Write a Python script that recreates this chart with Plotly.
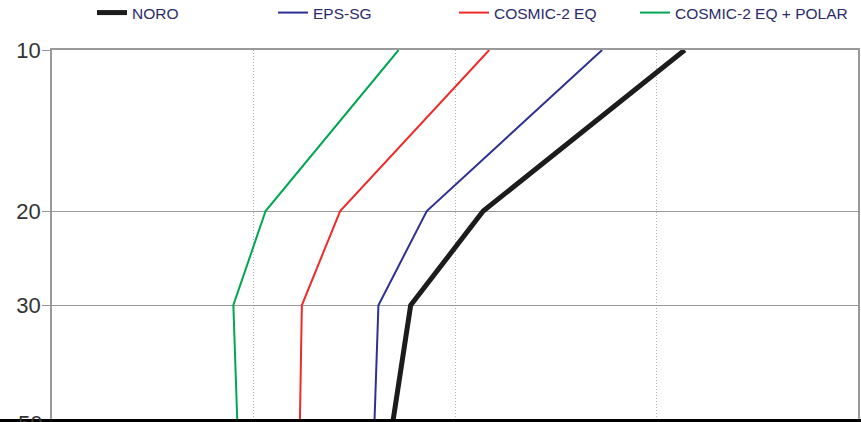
import math
import plotly.graph_objects as go

# Pressure levels (hPa) and profile values for each configuration
pressure = [10, 20, 30, 50]
noro = [3.14, 2.14, 1.78, 1.69]
eps_sg = [2.73, 1.86, 1.62, 1.60]
cosmic_eq = [2.17, 1.43, 1.24, 1.23]
cosmic_eq_polar = [1.72, 1.06, 0.90, 0.92]

series_names = ["NORO", "EPS-SG", "COSMIC-2 EQ", "COSMIC-2 EQ + POLAR"]
series_values = [noro, eps_sg, cosmic_eq, cosmic_eq_polar]
series_colors = ["#1c1c1c", "#2e3192", "#ee2b2b", "#00a651"]
series_widths = [5, 2, 2, 2]

ytick_vals = [10, 20, 30]
ytick_text = ["10", "20", "30"]

W, H = 861, 422
ML, MR, MT, MB = 52, 3, 50, 0
plot_h = H - MT - MB
plot_w = W - ML - MR
px_per_decade = 535.0

font_family = "Liberation Sans, Arial, Helvetica, sans-serif"
legend_ids = ["legend", "legend2", "legend3", "legend4"]
legend_left_px = [92, 273, 454, 635]

fig = go.Figure()
for name, vals, col, lw, lid in zip(series_names, series_values, series_colors,
                                    series_widths, legend_ids):
    fig.add_trace(go.Scatter(
        x=vals, y=pressure, mode="lines", name=name,
        line=dict(color=col, width=lw), legend=lid,
    ))

legend_layout = {}
for lid, lx in zip(legend_ids, legend_left_px):
    legend_layout[lid] = dict(
        orientation="h", x=(lx - ML) / plot_w, xanchor="left",
        y=1 + (MT - 13) / plot_h, yanchor="middle",
        font=dict(size=15.5, color="#2b2a6b", family=font_family),
        bgcolor="rgba(0,0,0,0)",
    )

fig.update_layout(
    width=W, height=H,
    margin=dict(l=ML, r=MR, t=MT, b=MB, autoexpand=False),
    paper_bgcolor="white", plot_bgcolor="white",
    font=dict(family=font_family, color="#333333"),
    showlegend=True,
    xaxis=dict(
        range=[0, 4], dtick=1, showticklabels=False, ticks="",
        showgrid=True, gridcolor="#b4b4b4", griddash="1px,2px", gridwidth=1,
        zeroline=False, showline=True, linecolor="#999999", linewidth=1.5,
        mirror=True,
    ),
    yaxis=dict(
        type="log", range=[1 + plot_h / px_per_decade, 1],
        tickvals=ytick_vals, ticktext=ytick_text,
        tickfont=dict(size=22, color="#333333"),
        ticks="outside", ticklen=8, tickcolor="#999999", tickwidth=1.2,
        ticklabelstandoff=-3,
        showgrid=True, gridcolor="#999999", gridwidth=1,
        zeroline=False, showline=True, linecolor="#999999", linewidth=1.5,
        mirror=True,
    ),
    **legend_layout,
)

# label for the 50 hPa level, which sits just below the visible plot area
y50 = -((math.log10(50) - 1) * px_per_decade - plot_h) / plot_h
fig.add_annotation(
    x=-8 / plot_w, y=y50, xref="paper", yref="paper",
    text="50", showarrow=False, xanchor="right", yanchor="middle",
    font=dict(size=22, color="#333333", family=font_family),
)

# dark strip along the bottom edge of the figure
fig.add_shape(
    type="rect", xref="paper", yref="paper",
    x0=-ML / plot_w, x1=1 + MR / plot_w + 0.01, y0=-0.01, y1=3 / plot_h,
    fillcolor="black", line=dict(width=0), layer="above",
)

fig.write_html("out.html")
